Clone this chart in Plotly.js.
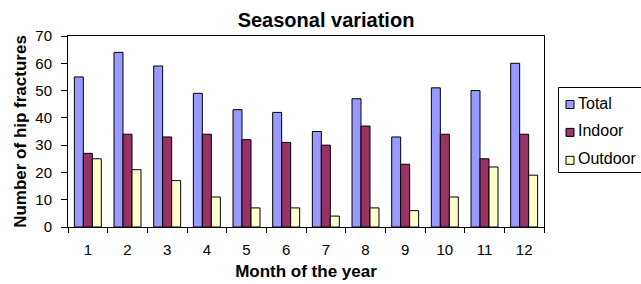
<!DOCTYPE html>
<html>
<head>
<meta charset="utf-8">
<script src="https://cdn.plot.ly/plotly-3.0.1.min.js"></script>
<style>html,body{margin:0;padding:0;background:#fff;overflow:hidden;}#chart{width:641px;height:284px;}</style>
</head>
<body>
<div id="chart"></div>
<script>
const months = ['1','2','3','4','5','6','7','8','9','10','11','12'];
const total = [55, 64, 59, 49, 43, 42, 35, 47, 33, 51, 50, 60];
const indoor = [27, 34, 33, 34, 32, 31, 30, 37, 23, 34, 25, 34];
const outdoor = [25, 21, 17, 11, 7, 7, 4, 7, 6, 11, 22, 19];
const seriesNames = ['Total', 'Indoor', 'Outdoor'];
const colors = ['#9999FF', '#993366', '#FFFFCC'];

const W = 641, H = 284;
const M = {l: 68, r: 97, t: 36, b: 57};
const PW = W - M.l - M.r, PH = H - M.t - M.b;
const px2x = p => (p - M.l) / PW;
const py2y = p => (H - M.b - p) / PH;

const data = [total, indoor, outdoor].map((vals, i) => ({
  type: 'bar', x: months, y: vals, name: seriesNames[i], showlegend: false,
  marker: {color: colors[i], line: {color: '#000', width: 1}}
}));

const font = {family: 'Liberation Sans, Arial, sans-serif', color: '#000'};

// Legend (Excel-style box drawn with shapes/annotations)
const shapes = [{
  type: 'rect', xref: 'paper', yref: 'paper',
  x0: px2x(558.5), x1: px2x(660), y0: py2y(172.5), y1: py2y(87.5),
  line: {color: '#000', width: 1}, fillcolor: '#fff', layer: 'above'
}];
const annotations = [];
seriesNames.forEach((nm, i) => {
  const base = 108.5 + i * 27.9;
  shapes.push({
    type: 'rect', xref: 'paper', yref: 'paper',
    x0: px2x(566), x1: px2x(574), y0: py2y(base), y1: py2y(base - 8),
    line: {color: '#000', width: 1}, fillcolor: colors[i], layer: 'above'
  });
  annotations.push({
    xref: 'paper', yref: 'paper', x: px2x(575.5), y: py2y(base - 5.5),
    xanchor: 'left', yanchor: 'middle', showarrow: false, text: nm,
    font: Object.assign({size: 16}, font)
  });
});

const layout = {
  width: W, height: H,
  margin: M,
  paper_bgcolor: '#fff', plot_bgcolor: '#fff',
  font: Object.assign({size: 15}, font),
  title: {text: '<b>Seasonal variation</b>', font: Object.assign({size: 20}, font),
          x: 326 / W, xanchor: 'center', xref: 'container', y: 1 - 19.5 / H, yanchor: 'middle', yref: 'container'},
  barmode: 'group', bargap: 0.32, bargroupgap: 0,
  showlegend: false,
  shapes: shapes,
  annotations: annotations,
  xaxis: {
    type: 'category', showline: true, linecolor: '#000', linewidth: 1, mirror: true,
    ticks: 'outside', tickson: 'boundaries', ticklen: 5, tickcolor: '#000',
    ticklabelstandoff: 9,
    tickfont: Object.assign({size: 15}, font), showgrid: false,
    title: {text: '<b>Month of the year</b>', font: Object.assign({size: 17}, font), standoff: 8}
  },
  yaxis: {
    range: [0, 70], dtick: 10, showline: true, linecolor: '#000', linewidth: 1, mirror: true,
    ticks: 'outside', ticklen: 6, tickcolor: '#000', showgrid: false, zeroline: false,
    ticklabelstandoff: 6,
    tickfont: Object.assign({size: 15}, font),
    title: {text: '<b>Number of hip fractures</b>', font: Object.assign({size: 17}, font), standoff: 4}
  }
};
Plotly.newPlot('chart', data, layout, {staticPlot: true, displayModeBar: false});
</script>
</body>
</html>
